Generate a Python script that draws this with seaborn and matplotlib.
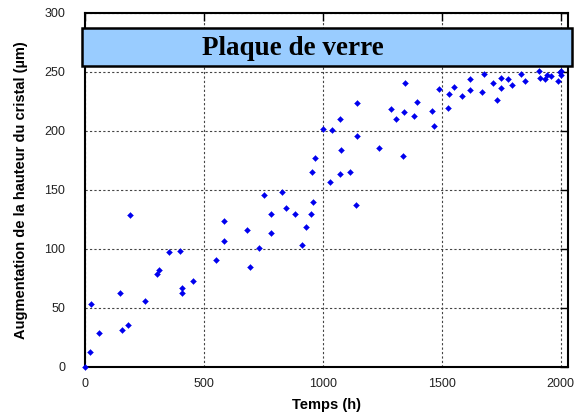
import matplotlib
matplotlib.use("Agg")
import matplotlib.pyplot as plt
import pandas as pd
import seaborn as sns
from matplotlib.patches import Rectangle

# Crystal height growth on a glass plate
temps_h = [0, 24, 28, 59, 150, 157, 182, 192, 252, 302, 312, 353, 399, 409, 409,
           455, 553, 585, 585, 683, 695, 734, 755, 782, 782, 829, 845, 885, 913,
           930, 952, 961, 955, 968, 1003, 1031, 1038, 1071, 1071, 1078, 1115,
           1141, 1144, 1143, 1237, 1286, 1307, 1336, 1343, 1346, 1382, 1396,
           1461, 1468, 1487, 1527, 1531, 1553, 1584, 1619, 1621, 1668, 1679,
           1717, 1731, 1748, 1748, 1779, 1794, 1835, 1850, 1908, 1912, 1934,
           1943, 1958, 1989, 1997, 2001, 2002]
hauteur_um = [0, 12.4, 53.4, 28.5, 62.4, 31.4, 35.3, 128.5, 55.4, 78.2, 81.6,
              97.5, 98.3, 66.7, 62.4, 72.6, 90.4, 123.5, 106.5, 115.5, 84.5,
              100.6, 145.8, 129.4, 113.3, 147.7, 134.5, 129.4, 103.4, 118.4,
              129.4, 139.3, 164.7, 176.5, 201.4, 156.8, 200.6, 209.6, 163.2,
              183.6, 164.7, 137.3, 195.5, 223.7, 185.3, 218.6, 209.6, 178.5,
              215.8, 240.7, 212.4, 224.6, 216.7, 203.7, 235.6, 219.5, 230.8,
              236.7, 229.7, 243.7, 234.7, 232.8, 247.7, 240.7, 225.7, 244.6,
              235.8, 243.7, 238.7, 247.7, 241.8, 250.6, 244.6, 243.7, 247.5,
              246.0, 241.8, 249.4, 251.0, 247.2]

x_ticks = [0, 500, 1000, 1500, 2000]
y_ticks = [0, 50, 100, 150, 200, 250, 300]
titre = "Plaque de verre"
x_label = "Temps (h)"
y_label = "Augmentation de la hauteur du cristal (µm)"

sns.set_theme(style="white")
plt.rcParams["font.family"] = ["Liberation Sans", "DejaVu Sans"]

W, H = 577, 419
fig = plt.figure(figsize=(W / 100, H / 100), dpi=100)
left, right, top, bottom = 84.7, 567.7, 12.7, 366.7
ax = fig.add_axes([left / W, 1 - bottom / H, (right - left) / W, (bottom - top) / H])

df = pd.DataFrame({"Temps": temps_h, "Hauteur": hauteur_um})
sns.scatterplot(data=df, x="Temps", y="Hauteur", marker="D", s=9,
                color="#0000EE", edgecolor="#0000EE", linewidth=0.3,
                ax=ax, zorder=3, clip_on=False)

ax.set_xlim(0, 2030)
ax.set_ylim(0, 300)
ax.set_xticks(x_ticks)
ax.set_yticks(y_ticks)

ax.grid(True, color="#444444", linestyle=(0, (2, 2)), linewidth=0.8)
ax.set_axisbelow(True)
for sp in ax.spines.values():
    sp.set_visible(True)
    sp.set_color("black")
    sp.set_linewidth(1.5)

ax.tick_params(axis="both", direction="in", length=6, width=1, color="black",
               top=True, right=True, labelsize=9, labelcolor="#222222")
ax.tick_params(axis="x", pad=8)
ax.tick_params(axis="y", pad=14)

ax.set_xlabel(x_label, fontsize=10.5, fontweight="bold", labelpad=6, color="black")
ax.set_ylabel(y_label, fontsize=10.5, fontweight="bold", labelpad=12, color="black")

# Title banner across the top of the plot
fig.add_artist(Rectangle((81.7 / W, 1 - 65.7 / H), (571.7 - 81.7) / W, (65.7 - 28.3) / H,
                         transform=fig.transFigure, facecolor="#99CCFF",
                         edgecolor="black", linewidth=1.8, zorder=5))
fig.text(292.5 / W, 1 - 55 / H, titre, ha="center", va="baseline", fontsize=19.5,
         fontweight="bold", family="Liberation Serif", color="black", zorder=6)

fig.savefig("out.png", dpi=100)
